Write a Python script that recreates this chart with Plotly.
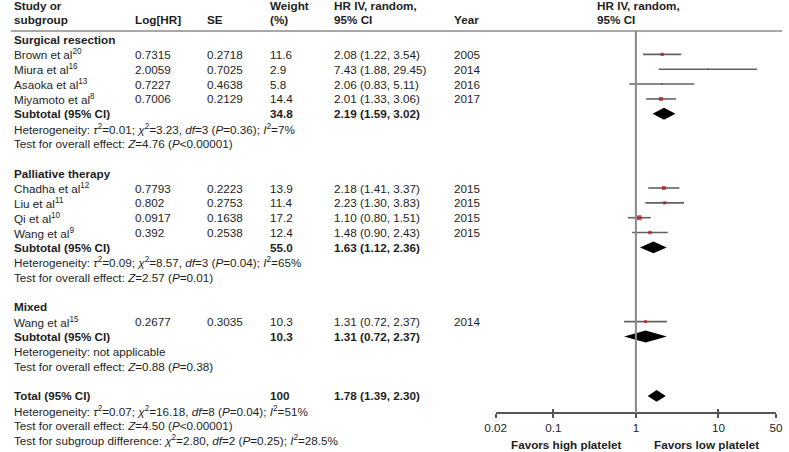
import math
import plotly.graph_objects as go

# ---------------- data ----------------
groups = ["Surgical resection", "Palliative therapy", "Mixed"]
study_names = ["Brown et al<sup>20</sup>", "Miura et al<sup>16</sup>", "Asaoka et al<sup>13</sup>",
               "Miyamoto et al<sup>8</sup>", "Chadha et al<sup>12</sup>", "Liu et al<sup>11</sup>",
               "Qi et al<sup>10</sup>", "Wang et al<sup>9</sup>", "Wang et al<sup>15</sup>"]
study_group = [0, 0, 0, 0, 1, 1, 1, 1, 2]
log_hr = ["0.7315", "2.0059", "0.7227", "0.7006", "0.7793", "0.802", "0.0917", "0.392", "0.2677"]
se = ["0.2718", "0.7025", "0.4638", "0.2129", "0.2223", "0.2753", "0.1638", "0.2538", "0.3035"]
weight = [11.6, 2.9, 5.8, 14.4, 13.9, 11.4, 17.2, 12.4, 10.3]
hr = [2.08, 7.43, 2.06, 2.01, 2.18, 2.23, 1.10, 1.48, 1.31]
ci_low = [1.22, 1.88, 0.83, 1.33, 1.41, 1.30, 0.80, 0.90, 0.72]
ci_high = [3.54, 29.45, 5.11, 3.06, 3.37, 3.83, 1.51, 2.43, 2.37]
year = ["2005", "2014", "2016", "2017", "2015", "2015", "2015", "2015", "2014"]

sub_weight = ["34.8", "55.0", "10.3"]
sub_hr = [2.19, 1.63, 1.31]
sub_low = [1.59, 1.12, 0.72]
sub_high = [3.02, 2.36, 2.37]
sub_het = [
    "Heterogeneity: <i>τ</i><sup>2</sup>=0.01; <i>χ</i><sup>2</sup>=3.23, <i>df</i>=3 (<i>P</i>=0.36); <i>I</i><sup>2</sup>=7%",
    "Heterogeneity: <i>τ</i><sup>2</sup>=0.09; <i>χ</i><sup>2</sup>=8.57, <i>df</i>=3 (<i>P</i>=0.04); <i>I</i><sup>2</sup>=65%",
    "Heterogeneity: not applicable",
]
sub_test = [
    "Test for overall effect: <i>Z</i>=4.76 (<i>P</i><0.00001)",
    "Test for overall effect: <i>Z</i>=2.57 (<i>P</i>=0.01)",
    "Test for overall effect: <i>Z</i>=0.88 (<i>P</i>=0.38)",
]
total_weight = "100"
total_hr, total_low, total_high = 1.78, 1.39, 2.30
total_lines = [
    "Heterogeneity: <i>τ</i><sup>2</sup>=0.07; <i>χ</i><sup>2</sup>=16.18, <i>df</i>=8 (<i>P</i>=0.04); <i>I</i><sup>2</sup>=51%",
    "Test for overall effect: <i>Z</i>=4.50 (<i>P</i><0.00001)",
    "Test for subgroup difference: <i>χ</i><sup>2</sup>=2.80, <i>df</i>=2 (<i>P</i>=0.25); <i>I</i><sup>2</sup>=28.5%",
]
tick_vals = [0.02, 0.1, 1, 10, 50]
tick_text = ["0.02", "0.1", "1", "10", "50"]

# ---------------- layout constants ----------------
W, H = 789, 452
ROW0, DY = 39.5, 14.85          # pixel y of row 0, row spacing
FS = 11.7
TXT = "#1e1e1e"
FONT = "Liberation Sans, Arial, sans-serif"
COL = {"study": 1, "loghr": 125, "se": 199, "wt": 263, "ci": 328, "year": 451, "plot": 598}
AX_Y_PX = 413
HEAD_LINE_PX = 31


def r_of(px):
    return (px - ROW0) / DY


fig = go.Figure()


def ann(text, xpx, r, bold=False, anchor="left", size=FS):
    if bold:
        text = "<b>" + text + "</b>"
    fig.add_annotation(x=xpx / W, xref="paper", y=r, yref="y", text=text, showarrow=False,
                       xanchor=anchor, yanchor="middle", font=dict(family=FONT, size=size, color=TXT))


def fmt_ci(h, lo, hi):
    return f"{h:.2f} ({lo:.2f}, {hi:.2f})"


# headers
rh1, rh2 = r_of(5), r_of(19)
ann("Study or", COL["study"], rh1, bold=True)
ann("subgroup", COL["study"], rh2, bold=True)
ann("Log[HR]", COL["loghr"], rh2, bold=True)
ann("SE", COL["se"], rh2, bold=True)
ann("Weight", COL["wt"], rh1, bold=True)
ann("(%)", COL["wt"], rh2, bold=True)
ann("HR IV, random,", COL["ci"], rh1, bold=True)
ann("95% CI", COL["ci"], rh2, bold=True)
ann("Year", COL["year"], rh2, bold=True)
ann("HR IV, random,", COL["plot"], rh1, bold=True)
ann("95% CI", COL["plot"], rh2, bold=True)

# rows
row = 0
study_rows = []
sub_rows = []
for g, gname in enumerate(groups):
    ann(gname, COL["study"], row, bold=True)
    row += 1
    for i, sg in enumerate(study_group):
        if sg != g:
            continue
        ann(study_names[i], COL["study"], row)
        ann(log_hr[i], COL["loghr"], row)
        ann(se[i], COL["se"], row)
        ann(f"{weight[i]:.1f}", COL["wt"], row)
        ann(fmt_ci(hr[i], ci_low[i], ci_high[i]), COL["ci"], row)
        ann(year[i], COL["year"], row)
        study_rows.append(row)
        row += 1
    ann("Subtotal (95% CI)", COL["study"], row, bold=True)
    ann(sub_weight[g], COL["wt"], row, bold=True)
    ann(fmt_ci(sub_hr[g], sub_low[g], sub_high[g]), COL["ci"], row, bold=True)
    sub_rows.append(row)
    row += 1
    ann(sub_het[g], COL["study"], row)
    row += 1
    ann(sub_test[g], COL["study"], row)
    row += 2

total_row = row
ann("Total (95% CI)", COL["study"], row, bold=True)
ann(total_weight, COL["wt"], row, bold=True)
ann(fmt_ci(total_hr, total_low, total_high), COL["ci"], row, bold=True)
for line in total_lines:
    row += 1
    ann(line, COL["study"], row)

# ---------------- forest marks ----------------
lx, ly = [], []
for i, r in enumerate(study_rows):
    lx += [ci_low[i], ci_high[i], None]
    ly += [r, r, None]
fig.add_trace(go.Scatter(x=lx, y=ly, mode="lines", line=dict(color="#626262", width=1.6),
                         hoverinfo="skip"))
fig.add_trace(go.Scatter(x=hr, y=study_rows, mode="markers",
                         marker=dict(symbol="square", color="#b80f0f",
                                     size=[max(1.4, w * 0.28) for w in weight], line=dict(width=0)),
                         hoverinfo="skip"))

DH = 0.4
diamonds = [(sub_hr[g], sub_low[g], sub_high[g], sub_rows[g]) for g in range(len(groups))]
diamonds.append((total_hr, total_low, total_high, total_row))
for h, lo, hi, r in diamonds:
    fig.add_trace(go.Scatter(x=[lo, h, hi, h, lo], y=[r, r - DH, r, r + DH, r], mode="lines",
                             fill="toself", fillcolor="black", line=dict(width=0, color="black"),
                             hoverinfo="skip"))

# helper trace for inner tick axis
fig.add_trace(go.Scatter(x=[1], y=[0], xaxis="x2", yaxis="y", mode="markers",
                         marker=dict(opacity=0), hoverinfo="skip"))

# vertical line of no effect and header rule
fig.add_shape(type="line", xref="x", yref="y", x0=1, x1=1, y0=r_of(HEAD_LINE_PX), y1=r_of(AX_Y_PX),
              line=dict(color="#8a8a8a", width=2))
fig.add_shape(type="line", xref="paper", yref="y", x0=0, x1=1, y0=r_of(HEAD_LINE_PX), y1=r_of(HEAD_LINE_PX),
              line=dict(color="#8a8a8a", width=1.5))

# favors labels
ann("Favors high platelet", 568, r_of(444), bold=True, anchor="center")
ann("Favors low platelet", 712, r_of(444), bold=True, anchor="center")

EPS = 1e-4
xr = [math.log10(min(tick_vals)) - EPS, math.log10(max(tick_vals)) + EPS]
dom = [496 / W, 783 / W]
pos = (H - AX_Y_PX) / H
common = dict(type="log", range=xr, domain=dom, anchor="free", position=pos,
              tickvals=tick_vals, ticktext=tick_text, showgrid=False, zeroline=False,
              ticklen=4, tickwidth=1.5, tickcolor="#555", ticklabeloverflow="allow")
fig.update_layout(
    width=W, height=H, margin=dict(l=0, r=0, t=0, b=0),
    paper_bgcolor="white", plot_bgcolor="white", showlegend=False,
    xaxis=dict(**common, ticks="outside", showline=True, linecolor="#555", linewidth=1.5,
               tickfont=dict(family=FONT, size=FS, color=TXT)),
    xaxis2=dict(**common, overlaying="x", ticks="inside", showline=False, showticklabels=False),
    yaxis=dict(range=[r_of(H), r_of(0)], domain=[0, 1], visible=False, showgrid=False, zeroline=False),
)

fig.write_html("out.html", config={"displayModeBar": False},
               post_script="document.body.style.margin='0';")
